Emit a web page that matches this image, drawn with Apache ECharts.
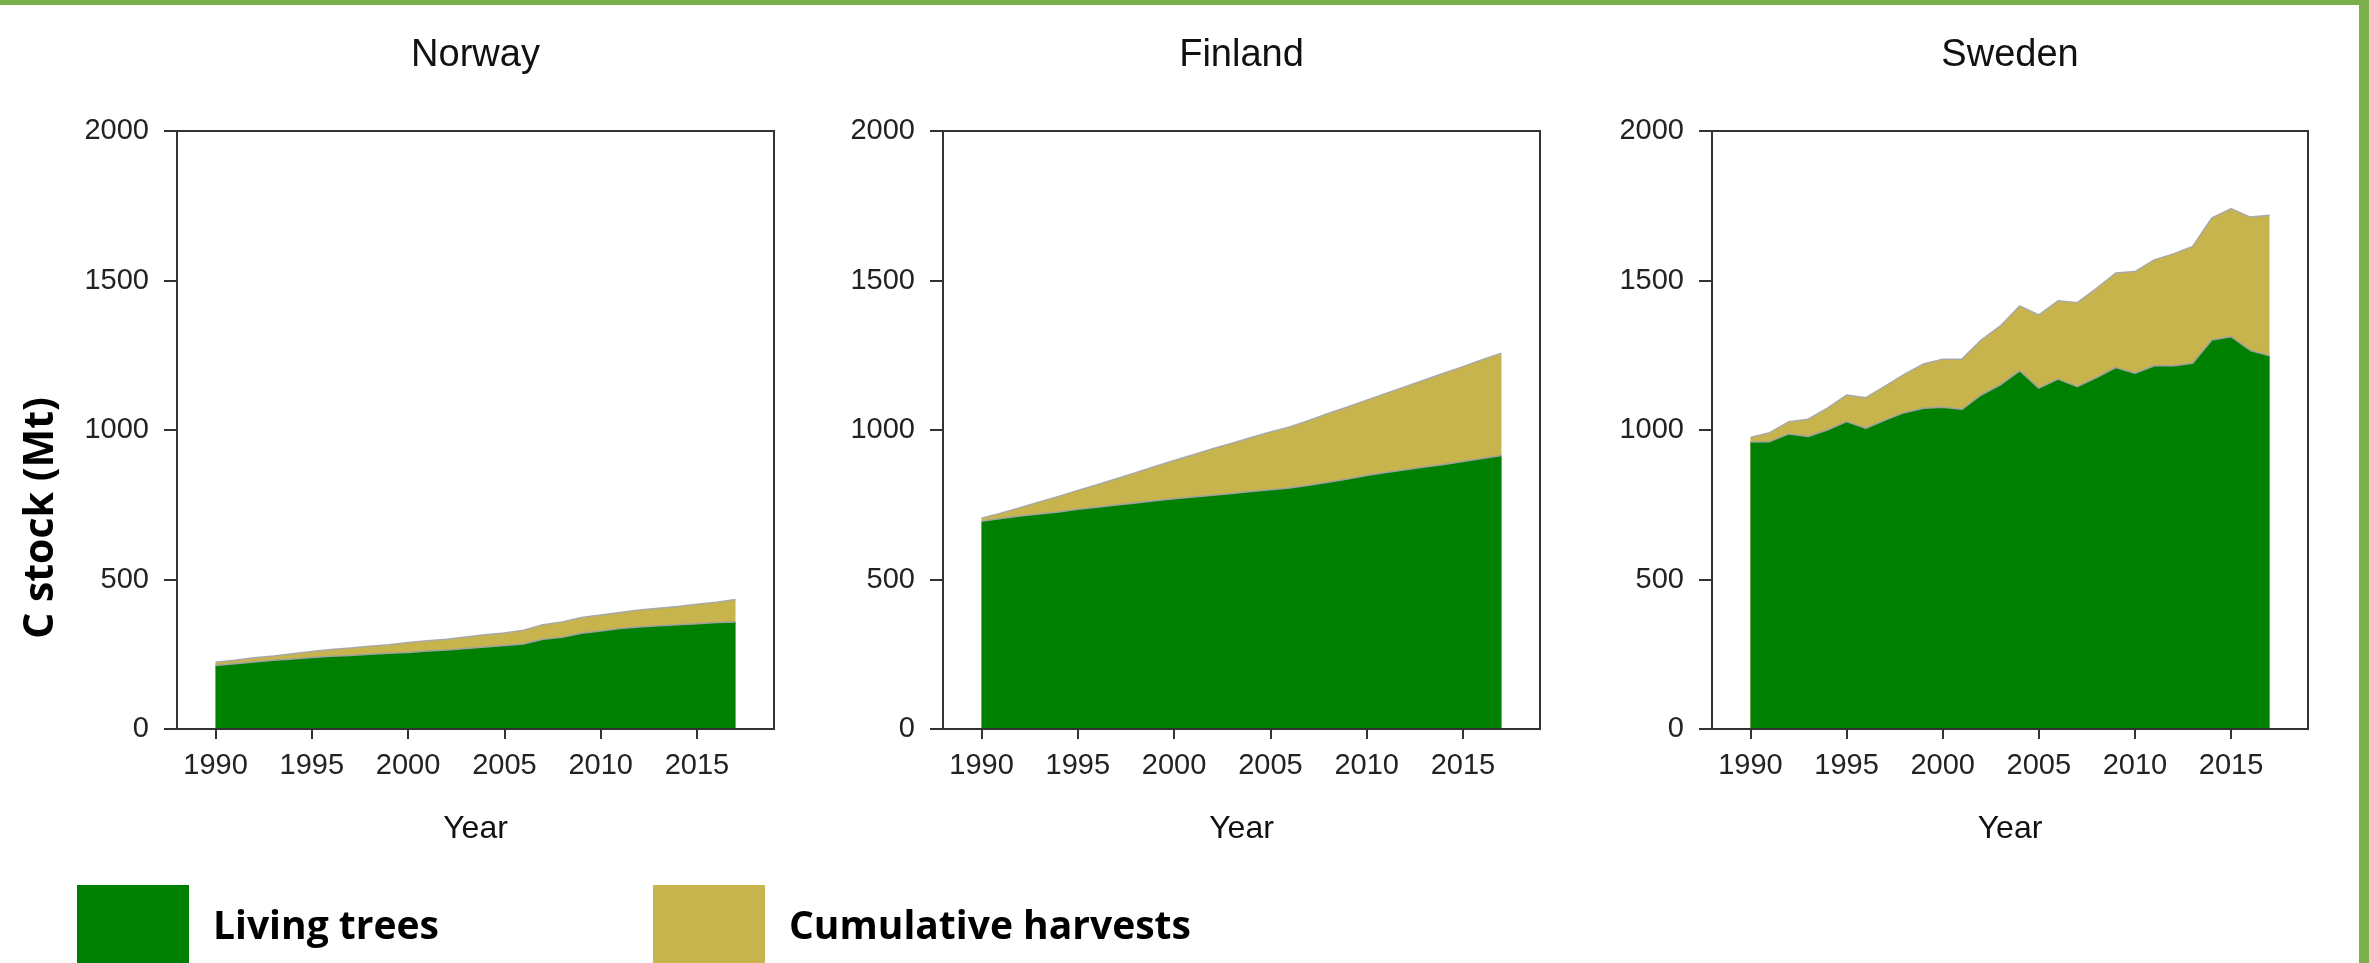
<!DOCTYPE html>
<html>
<head>
<meta charset="utf-8">
<script src="https://cdn.jsdelivr.net/npm/echarts@6/dist/echarts.min.js"></script>
<style>
html,body{margin:0;padding:0;background:#fff;}
#chart{width:2369px;height:963px;}
</style>
</head>
<body>
<div id="chart"></div>
<script>
// ---- data ----
const years = [1990,1991,1992,1993,1994,1995,1996,1997,1998,1999,2000,2001,2002,2003,
               2004,2005,2006,2007,2008,2009,2010,2011,2012,2013,2014,2015,2016,2017];
const countries = ['Norway', 'Finland', 'Sweden'];
const seriesNames = ['Living trees', 'Cumulative harvests'];
const xTickYears = [1990, 1995, 2000, 2005, 2010, 2015];

// Living trees C stock (Mt)
const norwayLiving  = [212,218,224,230,234,239,243,246,250,253,256,261,264,269,274,279,284,300,307,320,328,336,341,345,349,352,356,358];
const finlandLiving = [695,704,712,719,726,735,742,749,756,763,770,776,782,788,794,800,806,815,825,836,848,858,867,876,885,895,905,915];
const swedenLiving  = [960,961,987,978,1000,1028,1006,1033,1058,1073,1076,1069,1117,1151,1198,1140,1170,1145,1175,1209,1190,1215,1215,1223,1301,1312,1266,1248];

// Living trees + cumulative harvests, i.e. top of the stacked areas (Mt)
const norwayTotal  = [223,230,238,244,252,259,266,271,277,282,289,295,300,308,315,321,330,349,358,373,381,390,398,404,410,417,424,433];
const finlandTotal = [705,722,740,759,778,798,817,837,857,878,898,917,937,956,975,993,1010,1032,1055,1077,1100,1122,1145,1167,1190,1212,1235,1257];
const swedenTotal  = [975,991,1028,1036,1073,1117,1108,1147,1186,1221,1237,1237,1301,1348,1415,1385,1432,1426,1474,1525,1530,1569,1589,1614,1709,1740,1712,1718];

const livingByCountry = [norwayLiving, finlandLiving, swedenLiving];
const totalByCountry  = [norwayTotal, finlandTotal, swedenTotal];

// ---- layout / style ----
const GREEN = '#008000';
const TAN = '#c8b44c';
const FRAME = '#7aaf4a';
const AXIS = '#333333';
const gridPos = [
  {left: 177, top: 131, width: 597, height: 598},
  {left: 943, top: 131, width: 597, height: 598},
  {left: 1712, top: 131, width: 596, height: 598}
];

const chart = echarts.init(document.getElementById('chart'), null, {renderer: 'canvas'});

const grids = [], xAxes = [], yAxes = [], series = [], graphics = [];

gridPos.forEach((g, i) => {
  grids.push({left: g.left, top: g.top, width: g.width, height: g.height,
    show: true, borderColor: AXIS, borderWidth: 2, backgroundColor: 'transparent'});
  xAxes.push({
    type: 'value', gridIndex: i, min: 1988, max: 2019, z: 5,
    name: 'Year', nameLocation: 'middle', nameGap: 84,
    nameTextStyle: {fontFamily: 'Liberation Sans', fontSize: 32, color: '#111'},
    axisLine: {show: true, onZero: false, lineStyle: {color: AXIS, width: 2}},
    axisTick: {show: true, length: 10, inside: false, customValues: xTickYears, lineStyle: {color: AXIS, width: 2}},
    axisLabel: {show: true, customValues: xTickYears, margin: 22, fontFamily: 'Liberation Sans', fontSize: 29, color: '#222',
      formatter: v => String(v)},
    splitLine: {show: false}
  });
  yAxes.push({
    type: 'value', gridIndex: i, min: 0, max: 2000, interval: 500, z: 5,
    axisLine: {show: true, lineStyle: {color: AXIS, width: 2}},
    axisTick: {show: true, length: 13, inside: false, lineStyle: {color: AXIS, width: 2}},
    axisLabel: {show: true, margin: 28, fontFamily: 'Liberation Sans', fontSize: 29, color: '#222',
      formatter: v => String(v)},
    splitLine: {show: false}
  });
  series.push({
    name: seriesNames[1], type: 'line', xAxisIndex: i, yAxisIndex: i, z: 2,
    data: years.map((y, k) => [y, totalByCountry[i][k]]),
    symbol: 'none', showSymbol: false, smooth: false,
    color: TAN, itemStyle: {color: TAN},
    lineStyle: {color: '#a8a8a8', width: 1.5},
    areaStyle: {color: TAN, opacity: 1},
    emphasis: {disabled: true}, silent: true
  });
  series.push({
    name: seriesNames[0], type: 'line', xAxisIndex: i, yAxisIndex: i, z: 3,
    data: years.map((y, k) => [y, livingByCountry[i][k]]),
    symbol: 'none', showSymbol: false, smooth: false,
    color: GREEN, itemStyle: {color: GREEN},
    lineStyle: {color: '#a0a0a0', width: 1.5},
    areaStyle: {color: GREEN, opacity: 1},
    emphasis: {disabled: true}, silent: true
  });
  graphics.push({
    type: 'text', x: g.left + g.width / 2, y: 56,
    style: {text: countries[i], textAlign: 'center', textVerticalAlign: 'middle',
      font: '38px "Liberation Sans"', fill: '#111'}
  });
});

// y axis title (only once, left of Norway panel)
graphics.push({
  type: 'text', x: 41, y: 518, rotation: Math.PI / 2,
  style: {text: 'C stock (Mt)', textAlign: 'center', textVerticalAlign: 'middle',
    font: 'bold 41px "Open Sans"', fill: '#000'}
});
// green slide frame (top and right edges)
graphics.push({type: 'rect', shape: {x: 0, y: 0, width: 2369, height: 5}, style: {fill: FRAME}, z: 10});
graphics.push({type: 'rect', shape: {x: 2359, y: 0, width: 10, height: 963}, style: {fill: FRAME}, z: 10});

const legendText = {fontFamily: 'Open Sans', fontWeight: 'bold', fontSize: 39, color: '#000', padding: [0, 0, 0, 19]};

chart.setOption({
  animation: false,
  backgroundColor: '#ffffff',
  grid: grids,
  xAxis: xAxes,
  yAxis: yAxes,
  series: series,
  legend: [
    {data: [seriesNames[0]], left: 77, top: 885, padding: 0, itemWidth: 112, itemHeight: 86, icon: 'rect',
      itemStyle: {borderWidth: 0}, textStyle: legendText, selectedMode: false},
    {data: [seriesNames[1]], left: 653, top: 885, padding: 0, itemWidth: 112, itemHeight: 86, icon: 'rect',
      itemStyle: {borderWidth: 0}, textStyle: legendText, selectedMode: false}
  ],
  graphic: graphics
});
</script>
</body>
</html>
